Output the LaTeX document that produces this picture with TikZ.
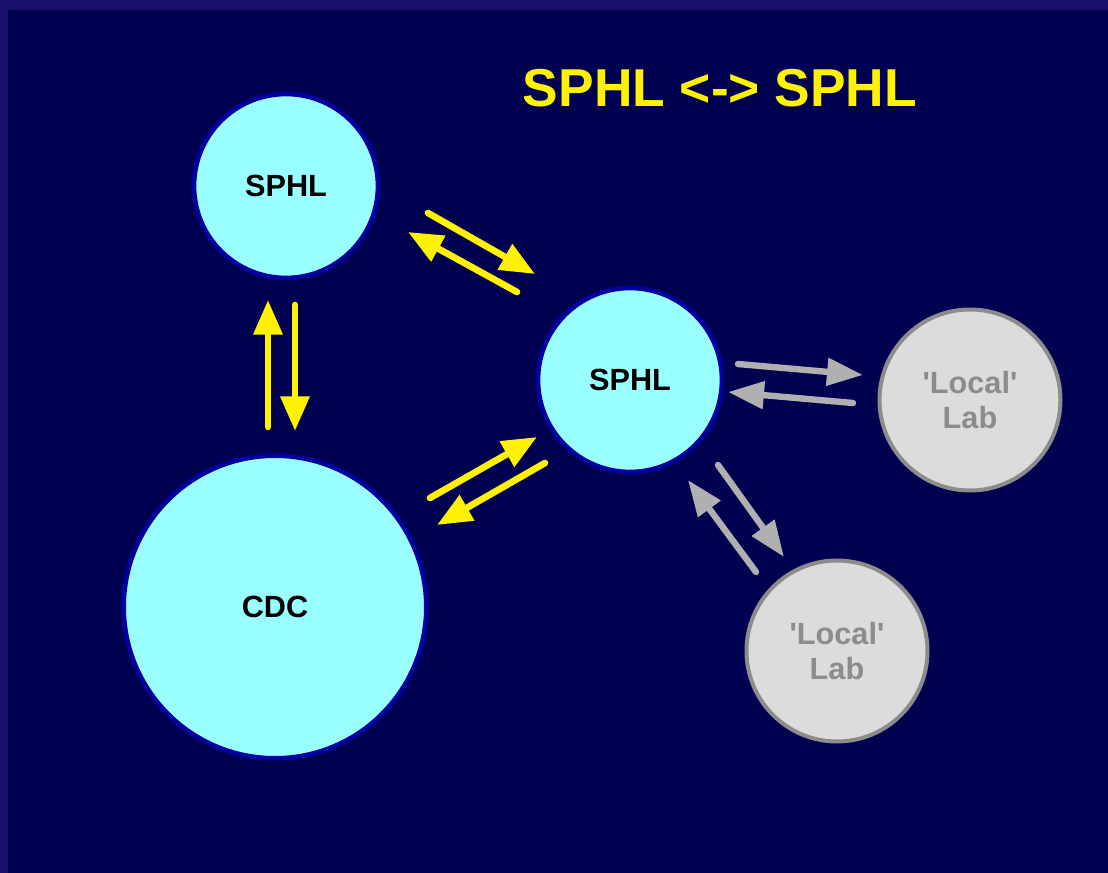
\documentclass[tikz,border=0pt]{standalone}
\usepackage{fontspec}
\setmainfont{Liberation Sans}
\usetikzlibrary{arrows.meta}
\definecolor{frame}{HTML}{1A0F6B}
\definecolor{navy}{HTML}{000050}
\definecolor{lablue}{HTML}{99FFFF}
\definecolor{labrim}{HTML}{0000A0}
\definecolor{locfill}{HTML}{DCDCDC}
\definecolor{locgrey}{HTML}{8C8C8C}
\definecolor{agrey}{HTML}{B0B0B0}

\begin{document}
\begin{tikzpicture}[x=0.75pt,y=-0.75pt,
    labcircle/.style={circle,draw=labrim,line width=3.5pt,fill=lablue,inner sep=0pt,
        font=\fontsize{23}{26}\selectfont\bfseries},
    localcircle/.style={circle,draw=locgrey,line width=3pt,fill=locfill,inner sep=0pt,
        text=locgrey,align=center,font=\fontsize{23}{26}\selectfont\bfseries},
    yarrow/.style={draw=yellow,line width=5pt,line cap=round,-{Triangle[length=26pt,width=21pt]}},
    garrow/.style={draw=agrey,line width=4.8pt,line cap=round,-{Triangle[length=27pt,width=20pt]}}]
    \fill[frame] (0,0) rectangle (1108,873);
    \fill[navy] (8,10) rectangle (1108,873);
    \useasboundingbox (0,0) rectangle (1108,873);
    %
    \node[text=yellow,font=\fontsize{40}{44}\selectfont\bfseries] (title) at (720,88) {SPHL <-> SPHL};
    %
    \node[labcircle,minimum size=138pt] (sphltop) at (286,186) {SPHL};
    \node[labcircle,minimum size=227pt] (cdc) at (275,607) {CDC};
    \node[labcircle,minimum size=138pt] (sphlmid) at (630,380) {SPHL};
    \node[localcircle,minimum size=135.75pt] (localA) at (970,400) {\textquotesingle Local\textquotesingle\\Lab};
    \node[localcircle,minimum size=135.75pt] (localB) at (837,651) {\textquotesingle Local\textquotesingle\\Lab};
    %
    % arrow ends
    \coordinate (tdA) at (295,305);  \coordinate (tdB) at (295,431);
    \coordinate (tuA) at (268,427);  \coordinate (tuB) at (268,300);
    \coordinate (rdA) at (428,213);  \coordinate (rdB) at (535,274);
    \coordinate (luA) at (517,292);  \coordinate (luB) at (408,232);
    \coordinate (ruA) at (430,498);  \coordinate (ruB) at (537,437);
    \coordinate (ldA) at (545,463);  \coordinate (ldB) at (437,525);
    \coordinate (grA) at (738,364);  \coordinate (grB) at (863,375);
    \coordinate (glA) at (853,403);  \coordinate (glB) at (728,392);
    \coordinate (gdA) at (718,465);  \coordinate (gdB) at (784,557);
    \coordinate (guA) at (756,572);  \coordinate (guB) at (688,480);
    %
    \draw[yarrow] (tdA) -- (tdB);
    \draw[yarrow] (tuA) -- (tuB);
    \draw[yarrow] (rdA) -- (rdB);
    \draw[yarrow] (luA) -- (luB);
    \draw[yarrow] (ruA) -- (ruB);
    \draw[yarrow] (ldA) -- (ldB);
    \draw[garrow] (grA) -- (grB);
    \draw[garrow] (glA) -- (glB);
    \draw[garrow] (gdA) -- (gdB);
    \draw[garrow] (guA) -- (guB);
\end{tikzpicture}
\end{document}
